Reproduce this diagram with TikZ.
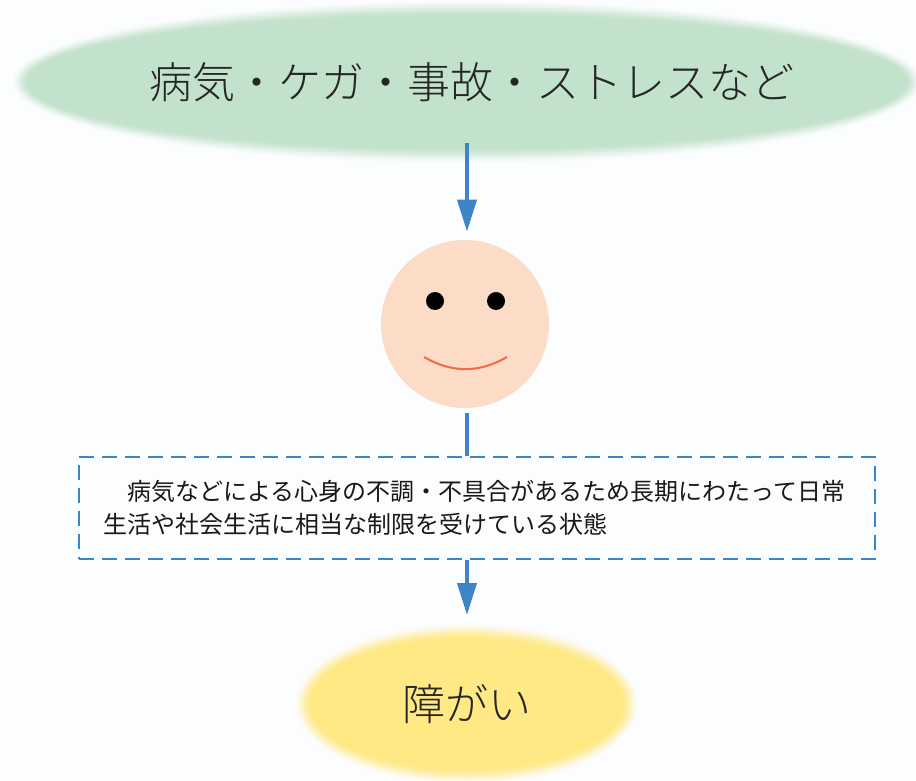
\documentclass[tikz,border=0pt]{standalone}
\usepackage{fontspec}
\setmainfont{Noto Sans CJK JP}
\newfontfamily\lightcjk{Noto Sans CJK JP Light}
\usetikzlibrary{arrows.meta, positioning, backgrounds}

\definecolor{pagebg}{HTML}{FCFDFF}
\definecolor{causegreen}{HTML}{C2E2CB}
\definecolor{resultyellow}{HTML}{FFE985}
\definecolor{facepeach}{HTML}{FCDBC7}
\definecolor{smilered}{HTML}{F26B43}
\definecolor{flowblue}{HTML}{3D85C6}

\tikzset{
  softblob/.style = {inner sep=0pt, text=black!85, font=\lightcjk\fontsize{21.5pt}{26pt}\selectfont},
  flowline/.style = {-{Triangle[length=16pt, width=9.5pt]}, line width=2pt, flowblue},
}

\begin{document}
\begin{tikzpicture} [node distance = 92pt, on grid, auto]
        \path [use as bounding box] (0,0) rectangle (458pt,-390.5pt);

        \node (cause) [softblob] at (236pt,-41pt) {病気・ケガ・事故・ストレスなど};
        \node (face) [circle, fill=facepeach, minimum size=84pt, inner sep=0pt, below = 121pt of cause, xshift=-3.5pt] {};
        \node (state) [draw=flowblue, line width=1.4pt, dash pattern=on 7.5pt off 4pt, minimum width=398pt, minimum height=51pt,
                       text width=372pt, inner xsep=12pt, align=left, font=\fontsize{12pt}{16.5pt}\selectfont, text=black!90, below = 92pt of face, xshift=6pt]
                       {\hspace*{-1pt}\hspace*{1em}病気などによる心身の不調・不具合があるため長期にわたって日常\\\hspace*{-1pt}生活や社会生活に相当な制限を受けている状態\\[3pt]};
        \node (result) [softblob, below = 98pt of state, xshift=-5pt] {障がい};

        \node (eyeL) [circle, fill=black, minimum size=9pt, inner sep=0pt, above left = 11.5pt and 15pt of face] {};
        \node (eyeR) [circle, fill=black, minimum size=9pt, inner sep=0pt, above right = 11.5pt and 15.5pt of face] {};
        \draw [smilered, line width=1pt] ([xshift=-20.5pt, yshift=-16.5pt]face.center) to [bend right=30] ([xshift=21pt, yshift=-16.5pt]face.center);

        \draw [flowline, shorten <=-8.5pt, shorten >=4pt] (result |- 0,-80pt) -- (result |- face.north);
        \draw [line width=2pt, flowblue, shorten <=2.5pt] (result |- face.south) -- (result |- state.north);
        \draw [flowline, shorten >=5.5pt] (result |- state.south) -- (result |- 0,-313pt);

        \begin{pgfonlayer}{background}
        \fill [pagebg] (0,0) rectangle (458pt,-390.5pt);
        \foreach \d/\m in {0/8,1/20,2/35,3/50,4/65,5/80,6/92,7/100} {
            \fill [causegreen!\m!pagebg] ([xshift=-2.5pt]cause.center) ellipse [x radius=227pt-\d pt, y radius=40.5pt-\d pt];
            \fill [resultyellow!\m!pagebg] (result) ellipse [x radius=85.5pt-\d pt, y radius=40pt-\d pt];
        }
        \end{pgfonlayer}
    \end{tikzpicture}
\end{document}
